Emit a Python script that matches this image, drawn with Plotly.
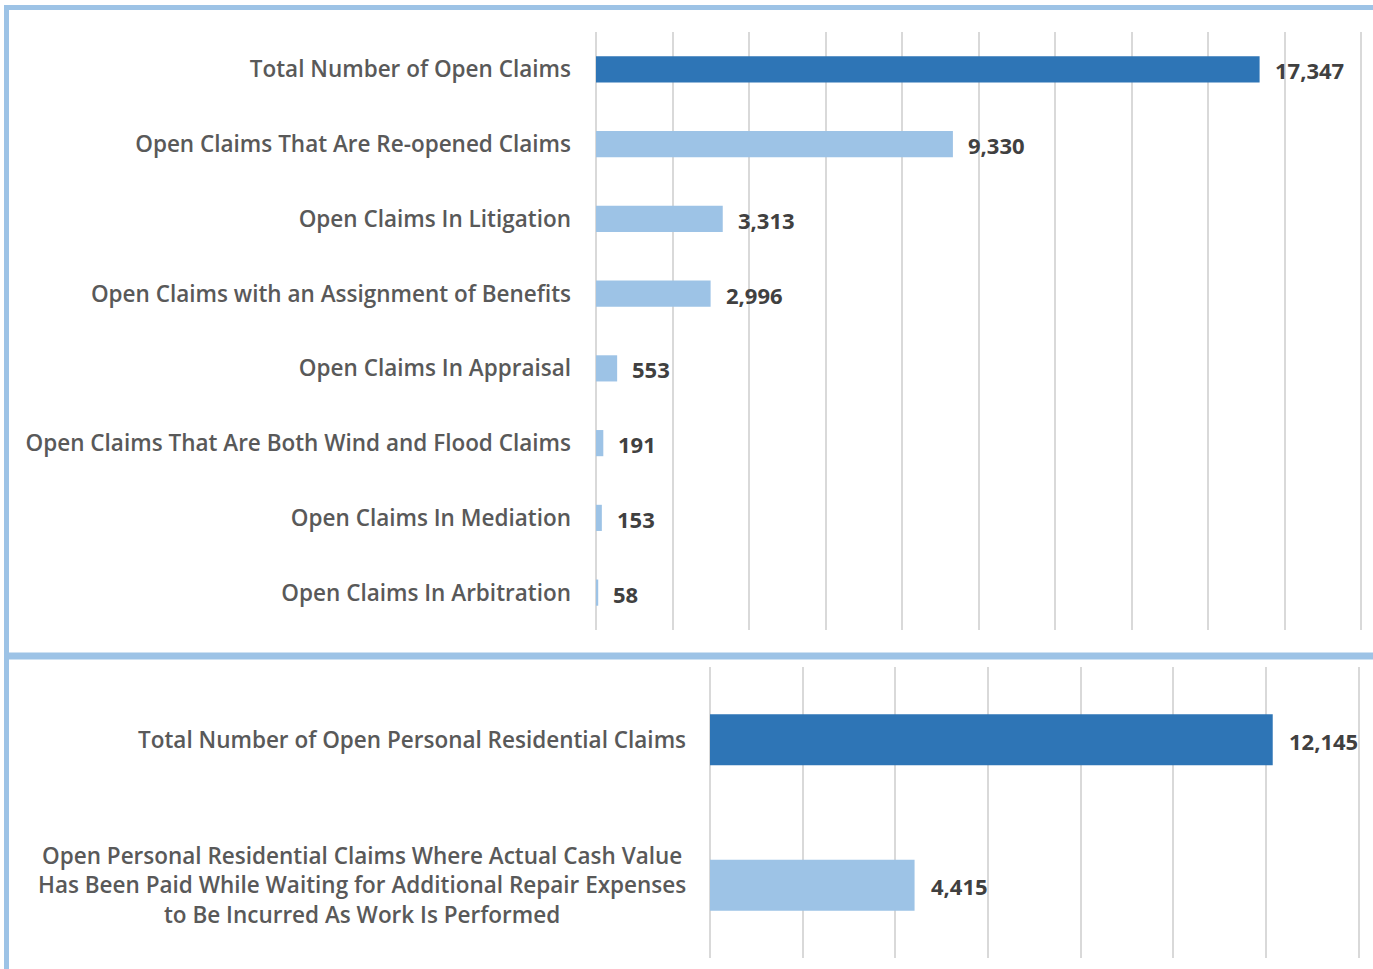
import plotly.graph_objects as go

top_categories = [
    "Total Number of Open Claims",
    "Open Claims That Are Re-opened Claims",
    "Open Claims In Litigation",
    "Open Claims with an Assignment of Benefits",
    "Open Claims In Appraisal",
    "Open Claims That Are Both Wind and Flood Claims",
    "Open Claims In Mediation",
    "Open Claims In Arbitration",
]
top_values = [17347, 9330, 3313, 2996, 553, 191, 153, 58]

bottom_categories = [
    "Total Number of Open Personal Residential Claims",
    "Open Personal Residential Claims Where Actual Cash Value<br>Has Been Paid While Waiting for Additional Repair Expenses<br>to Be Incurred As Work Is Performed",
]
bottom_values = [12145, 4415]

DARK = "#2E75B6"
LIGHT = "#9DC3E6"
TEXT = "#595959"
VAL = "#404040"
FONT = "Open Sans"

W, H = 1373, 969

def px(x):
    return x / W

def py(y):
    return 1 - y / H

top_colors = [DARK] + [LIGHT] * (len(top_values) - 1)
bottom_colors = [DARK] + [LIGHT] * (len(bottom_values) - 1)

fig = go.Figure()
fig.add_trace(go.Bar(
    x=top_values, y=top_categories, orientation="h",
    marker=dict(color=top_colors, line=dict(width=0)),
    width=0.35, xaxis="x", yaxis="y", hoverinfo="x+y",
))
fig.add_trace(go.Bar(
    x=bottom_values, y=bottom_categories, orientation="h",
    marker=dict(color=bottom_colors, line=dict(width=0)),
    width=0.35, xaxis="x2", yaxis="y2", hoverinfo="x",
))

LABEL_FONT = dict(family=FONT, size=22.5, color=TEXT, weight=600)
VAL_FONT = dict(family=FONT, size=22, color=VAL, weight="bold")

annotations = []
for c, v in zip(top_categories, top_values):
    annotations.append(dict(
        x=v, y=c, xref="x", yref="y", text=f"{v:,}", showarrow=False,
        xanchor="left", yanchor="middle", xshift=13, yshift=-1,
        font=VAL_FONT,
    ))
for c, v in zip(bottom_categories, bottom_values):
    annotations.append(dict(
        x=v, y=c, xref="x2", yref="y2", text=f"{v:,}", showarrow=False,
        xanchor="left", yanchor="middle", xshift=14, yshift=-1,
        font=VAL_FONT,
    ))
    annotations.append(dict(
        x=0, y=c, xref="x2", yref="y2", text=c, showarrow=False,
        xanchor="right", yanchor="middle", xshift=-22, align="center",
        font=LABEL_FONT,
    ))

grid = dict(showgrid=True, gridcolor="#D9D9D9", gridwidth=1.5, dtick=2000,
            showticklabels=False, zeroline=True, zerolinecolor="#D9D9D9",
            zerolinewidth=1.5, showline=False, fixedrange=True)

fig.update_layout(
    width=W, height=H,
    margin=dict(l=0, r=0, t=0, b=0),
    paper_bgcolor="white", plot_bgcolor="white",
    showlegend=False,
    font=dict(family=FONT, color=TEXT, size=20),
    xaxis=dict(domain=[px(596), px(1363)], range=[0, 20050], anchor="y", **grid),
    yaxis=dict(domain=[py(630), py(32)], anchor="x", autorange="reversed",
               showgrid=False, ticks="", ticklabelstandoff=24,
               tickfont=LABEL_FONT),
    xaxis2=dict(domain=[px(710), px(1361)], range=[0, 14050], anchor="y2", **grid),
    yaxis2=dict(domain=[py(958), py(667)], anchor="x2", autorange="reversed",
                showgrid=False, ticks="", showticklabels=False),
    annotations=annotations,
    shapes=[
        dict(type="line", xref="paper", yref="paper", x0=px(6.5), x1=px(6.5),
             y0=py(5), y1=0, line=dict(color=LIGHT, width=5)),
        dict(type="line", xref="paper", yref="paper", x0=px(4), x1=1,
             y0=py(7.5), y1=py(7.5), line=dict(color=LIGHT, width=5)),
        dict(type="line", xref="paper", yref="paper", x0=px(4), x1=1,
             y0=py(656), y1=py(656), line=dict(color=LIGHT, width=7)),
    ],
)

fig.write_html("out.html", config={"displayModeBar": False},
               post_script="document.body.style.margin='0';")
